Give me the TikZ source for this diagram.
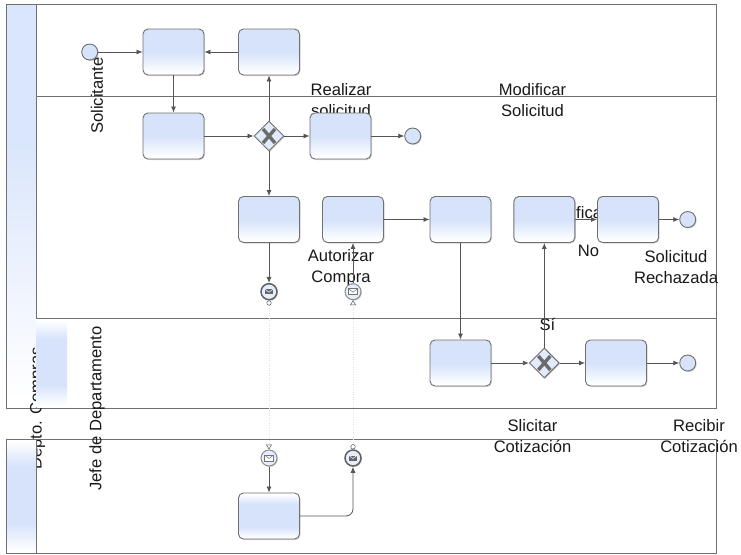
\documentclass[tikz,border=0pt]{standalone}
\usepackage{fontspec}
\setmainfont{Liberation Sans}
\usetikzlibrary{arrows.meta,shapes.geometric,shadows}
\definecolor{laneblue}{HTML}{D6E3FB}
\definecolor{edgegray}{HTML}{707070}
\definecolor{flowgray}{HTML}{555555}
\pgfdeclareverticalshading{taskshade}{100bp}{color(0bp)=(white); color(27bp)=(white); color(50bp)=(laneblue); color(100bp)=(laneblue)}
\pgfdeclareverticalshading{headshade}{100bp}{color(0bp)=(white); color(26bp)=(white); color(58bp)=(laneblue!90); color(100bp)=(laneblue!90)}
\pgfdeclareverticalshading{midshade}{100bp}{color(0bp)=(white); color(26bp)=(white); color(38bp)=(laneblue); color(63bp)=(laneblue); color(74bp)=(white); color(100bp)=(white)}
\begin{document}
\begin{tikzpicture}[x=1pt,y=-1pt,
   lbl/.style={font=\fontsize{16.6}{21}\selectfont,align=center,inner sep=0pt,text=black!90},
   poolline/.style={draw=edgegray,line width=0.9pt},
   softshadow/.style={drop shadow={shadow xshift=1pt,shadow yshift=-1pt,opacity=0.35,fill=gray}},
   task/.style={rectangle,rounded corners=5pt,draw=edgegray,line width=0.9pt,minimum width=61pt,minimum height=46pt,inner sep=0pt,shading=taskshade,softshadow},
   gateway/.style={diamond,draw=edgegray,line width=0.9pt,minimum width=30pt,minimum height=30pt,inner sep=0pt,fill=laneblue!70,softshadow},
   endpoint/.style={circle,draw=edgegray,line width=0.9pt,minimum size=16pt,inner sep=0pt,fill=laneblue,softshadow},
   msgevent/.style={circle,draw=black!45,line width=1pt,minimum size=16pt,inner sep=0pt,fill=laneblue!60,softshadow},
   msgthrow/.style={msgevent,draw=black!62,line width=1.5pt},
   flow/.style={draw=flowgray,line width=0.8pt,-{Latex[length=6pt,width=5pt]}},
   msgflow/.style={draw=black!13,line width=0.5pt,dotted},
   xmark/.style={draw=black!58,line width=3.4pt}]
   \useasboundingbox (0,0) rectangle (741,554);
   % Pool top
   \draw[poolline] (6,4.5) rectangle (716,408);
   \draw[poolline,shading=headshade] (6,4.5) rectangle (36,408);
   \node[lbl,rotate=90] (depto) at (37.5,408.5) {Depto. Compras};
   \path[shading=midshade] (36.5,318) rectangle (67,407.5);
   \draw[poolline] (36,96) -- (716,96);
   \draw[poolline] (36,318) -- (716,318);
   % Pool bottom
   \draw[poolline] (6,439) rectangle (716,553);
   \draw[poolline,shading=midshade] (6,439) rectangle (36,553);
   % Texts
   \node[lbl,rotate=90] (solicitante) at (97,95.5) {Solicitante};
   \node[lbl,rotate=90] (jefe) at (97,408.5) {Jefe de Departamento};
   \node[lbl] (realizar) at (341,100.5) {Realizar\\solicitud};
   \node[lbl] (modificar) at (532.5,100.5) {Modificar\\Solicitud};
   \node[lbl] (autorizar) at (341,268) {Autorizar\\Compra};
   \node[lbl,anchor=west] (fica) at (576,213) {fica};
   \node[lbl] (no) at (588.5,251) {No};
   \node[lbl] (rechazada) at (676,267.5) {Solicitud\\Rechazada};
   \node[lbl] (si) at (547.5,324) {Sí};
   \node[lbl] (slicitar) at (532.5,436.5) {Slicitar\\Cotización};
   \node[lbl] (recibir) at (699,436.5) {Recibir\\Cotización};
   % Lane 1
   \node[endpoint] (start) at (89.7,52) {};
   \node[task] (t1) at (173.5,52) {};
   \node[task] (t2) at (269,52) {};
   % Lane 2
   \node[task] (t3) at (173.5,136) {};
   \node[gateway] (gw1) at (269,136) {};
   \node[task] (t4) at (340.5,136) {};
   \node[endpoint] (end1) at (412.7,136) {};
   \node[task] (t5) at (269,219.5) {};
   \node[task] (t6) at (353,219.5) {};
   \node[task] (t7) at (460.5,219.5) {};
   \node[task] (t8) at (544.3,219.5) {};
   \node[task] (t9) at (628,219.5) {};
   \node[endpoint] (end2) at (687.7,219.5) {};
   \node[msgthrow] (m1) at (269,291.7) {};
   \node[msgevent] (m2) at (353,291.7) {};
   % Lane 3
   \node[task] (t10) at (460.5,363) {};
   \node[gateway] (gw2) at (544.3,363) {};
   \node[task] (t11) at (616,363) {};
   \node[endpoint] (end3) at (687.7,363) {};
   % Bottom lane
   \node[msgevent] (m3) at (269,458) {};
   \node[msgthrow] (m4) at (353,458) {};
   \node[task,shading=midshade] (t12) at (269,516) {};
   % Gateway marks
   \foreach \g in {gw1,gw2}
     {\draw[xmark] ([shift={(-6,-7)}]\g.center) -- ([shift={(6,7)}]\g.center);
      \draw[xmark] ([shift={(6,-7)}]\g.center) -- ([shift={(-6,7)}]\g.center);}
   % Envelopes
   \foreach \m in {m1,m4}
     {\fill[black!60] ([shift={(-4,-2.5)}]\m.center) rectangle ([shift={(4,2.5)}]\m.center);
      \draw[white,line width=0.5pt] ([shift={(-4,-2.5)}]\m.center) -- ([shift={(0,0.5)}]\m.center) -- ([shift={(4,-2.5)}]\m.center);}
   \foreach \m in {m2,m3}
     {\draw[black!55,fill=white,line width=0.5pt] ([shift={(-4.5,-3)}]\m.center) rectangle ([shift={(4.5,3)}]\m.center);
      \draw[black!55,line width=0.5pt] ([shift={(-4.5,-3)}]\m.center) -- ([shift={(0,0.5)}]\m.center) -- ([shift={(4.5,-3)}]\m.center);}
   % Sequence flows
   \draw[flow] (start) -- (t1);
   \draw[flow] (t2) -- (t1);
   \draw[flow] (t1) -- (t3);
   \draw[flow] (t3) -- (gw1);
   \draw[flow] (gw1) -- (t2);
   \draw[flow] (gw1) -- (t4);
   \draw[flow] (t4) -- (end1);
   \draw[flow] (gw1) -- (t5);
   \draw[flow] (t5) -- (m1);
   \draw[flow] (m2) -- (t6);
   \draw[flow] (t6) -- (t7);
   \draw[flow] (t7) -- (t10);
   \draw[flow] (t10) -- (gw2);
   \draw[flow] (gw2) -- (t8);
   \draw[flow] (gw2) -- (t11);
   \draw[flow] (t11) -- (end3);
   \draw[flow] (t8) -- (t9);
   \draw[flow] (t9) -- (end2);
   \draw[flow] (m3) -- (t12);
   \draw[flow,rounded corners=7pt] (t12) -| (m4);
   % Message flows
   \draw[msgflow,{Circle[open,length=5pt,width=5pt,color=black!65,fill=white,line width=0.5pt]}-{Triangle[open,length=5pt,width=6pt,color=black!65,fill=white,line width=0.5pt]}] (m1) -- (m3);
   \draw[msgflow,{Circle[open,length=5pt,width=5pt,color=black!65,fill=white,line width=0.5pt]}-{Triangle[open,length=5pt,width=6pt,color=black!65,fill=white,line width=0.5pt]}] (m4) -- (m2);
\end{tikzpicture}
\end{document}
